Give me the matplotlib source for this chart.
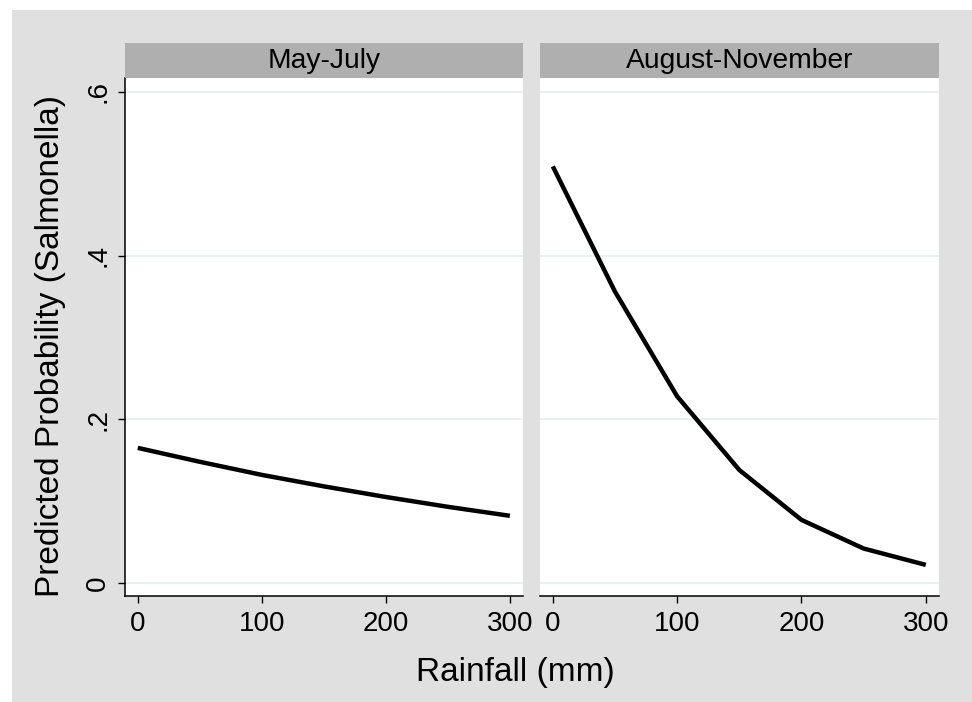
import numpy as np
import matplotlib
matplotlib.use('Agg')
import matplotlib.pyplot as plt
from matplotlib.patches import Rectangle

plt.rcParams['font.family'] = ['Liberation Sans', 'DejaVu Sans']

# Data
rainfall = [0, 50, 100, 150, 200, 250, 300]
prob_may_july = [0.165, 0.148, 0.132, 0.118, 0.105, 0.093, 0.082]
prob_aug_nov = [0.509, 0.356, 0.228, 0.138, 0.077, 0.042, 0.022]
panel_titles = ['May-July', 'August-November']
x_ticks = [0, 100, 200, 300]
y_ticks = [0, 0.2, 0.4, 0.6]
y_tick_labels = ['0', '.2', '.4', '.6']

W, H = 972, 702
bg_gray = '#e0e0e0'
strip_gray = '#afafaf'
grid_col = '#e6eff0'

fig = plt.figure(figsize=(W / 100, H / 100), dpi=100, facecolor='white')
# gray graph region (image is cropped at right/bottom)
fig.patches.append(Rectangle((12 / W, 0), 1, 1 - 10 / H, transform=fig.transFigure,
                             facecolor=bg_gray, edgecolor='none', zorder=-10))

def px(x0, y0, x1, y1):
    return [x0 / W, 1 - y1 / H, (x1 - x0) / W, (y1 - y0) / H]

panels = [(125, 523), (540, 939)]
series = [prob_may_july, prob_aug_nov]

for i, ((x0, x1), vals, title) in enumerate(zip(panels, series, panel_titles)):
    ax = fig.add_axes(px(x0, 78, x1, 596))
    ax.set_facecolor('white')
    ax.plot(rainfall, vals, color='black', lw=3.2, solid_capstyle='butt', zorder=3)
    ax.set_xlim(-10.3, 310.6)
    ax.set_ylim(-0.016, 0.617)
    for yv in y_ticks:
        ax.axhline(yv, color=grid_col, lw=1.3, zorder=1)
    ax.set_xticks(x_ticks)
    ax.set_xticklabels([str(v) for v in x_ticks], fontsize=20)
    ax.tick_params(axis='x', length=5, width=1.0, pad=6, color='black')
    for s in ['top', 'right']:
        ax.spines[s].set_visible(False)
    ax.spines['bottom'].set_linewidth(1.1)
    if i == 0:
        ax.set_yticks(y_ticks)
        ax.set_yticklabels(y_tick_labels, fontsize=20, rotation=90, va='center')
        ax.tick_params(axis='y', length=5, width=1.0, pad=5)
        ax.spines['left'].set_linewidth(1.1)
    else:
        ax.set_yticks([])
        ax.spines['left'].set_visible(False)

    # facet strip
    sax = fig.add_axes(px(x0, 43, x1, 78))
    sax.set_facecolor(strip_gray)
    sax.set_xticks([])
    sax.set_yticks([])
    for s in sax.spines.values():
        s.set_visible(False)
    sax.text(0.5, 0.5, title, ha='center', va='center', fontsize=20.3,
             transform=sax.transAxes)

fig.text(50 / W, 1 - 346 / H, 'Predicted Probability (Salmonella)', rotation=90,
         ha='center', va='center', fontsize=24)
fig.text(515 / W, 1 - 672 / H, 'Rainfall (mm)', ha='center', va='center', fontsize=24)

fig.savefig('out.png', dpi=100, facecolor=fig.get_facecolor())
